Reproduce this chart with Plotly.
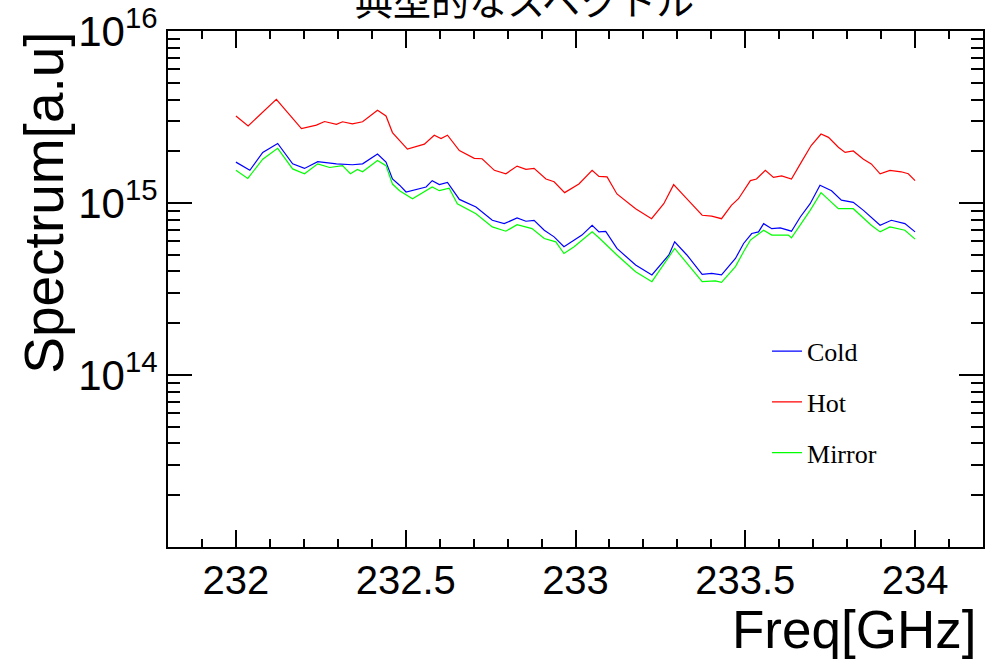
import plotly.graph_objects as go

# ---- data ----
hot_freq = [232.000, 232.036, 232.119, 232.193, 232.237, 232.261, 232.296, 232.314, 232.343, 232.373,
            232.417, 232.442, 232.461, 232.482, 232.505, 232.555, 232.584, 232.604, 232.623, 232.658,
            232.702, 232.725, 232.761, 232.795, 232.828, 232.854, 232.878, 232.913, 232.937, 232.968,
            232.996, 233.010, 233.049, 233.069, 233.093, 233.122, 233.177, 233.224, 233.260, 233.289,
            233.324, 233.373, 233.401, 233.430, 233.459, 233.480, 233.515, 233.533, 233.559, 233.583,
            233.607, 233.636, 233.665, 233.694, 233.723, 233.745, 233.774, 233.794, 233.818, 233.848,
            233.871, 233.897, 233.926, 233.959, 233.980, 234.000]
hot_vals = [3.21, 2.81, 4.01, 2.71, 2.84, 2.98, 2.87, 2.97, 2.89, 2.97,
            3.46, 3.21, 2.57, 2.30, 2.06, 2.20, 2.48, 2.37, 2.48, 2.02,
            1.82, 1.81, 1.55, 1.48, 1.64, 1.57, 1.59, 1.38, 1.33, 1.15,
            1.24, 1.29, 1.55, 1.43, 1.42, 1.13, 0.927, 0.811, 0.991, 1.28,
            1.08, 0.849, 0.839, 0.811, 0.970, 1.06, 1.35, 1.38, 1.55, 1.41,
            1.44, 1.38, 1.73, 2.16, 2.52, 2.41, 2.11, 1.97, 2.01, 1.80,
            1.69, 1.48, 1.55, 1.52, 1.48, 1.35]  # x 1e15

cold_freq = [232.000, 232.041, 232.079, 232.123, 232.167, 232.202, 232.241, 232.296, 232.343, 232.373,
             232.417, 232.442, 232.461, 232.482, 232.501, 232.540, 232.560, 232.578, 232.599, 232.623,
             232.658, 232.707, 232.755, 232.790, 232.828, 232.854, 232.878, 232.908, 232.937, 232.966,
             232.996, 233.019, 233.049, 233.069, 233.089, 233.122, 233.177, 233.225, 233.275, 233.292,
             233.328, 233.373, 233.401, 233.430, 233.471, 233.495, 233.519, 233.539, 233.554, 233.578,
             233.603, 233.636, 233.662, 233.691, 233.720, 233.754, 233.783, 233.818, 233.848, 233.871,
             233.897, 233.930, 233.970, 234.000]
cold_vals = [1.73, 1.55, 1.97, 2.22, 1.69, 1.59, 1.74, 1.69, 1.67, 1.69,
             1.93, 1.73, 1.38, 1.27, 1.16, 1.21, 1.24, 1.35, 1.28, 1.32,
             1.05, 0.948, 0.794, 0.759, 0.819, 0.784, 0.794, 0.695, 0.636, 0.557,
             0.609, 0.651, 0.743, 0.680, 0.685, 0.545, 0.436, 0.382, 0.499, 0.595,
             0.499, 0.385, 0.390, 0.382, 0.476, 0.582, 0.665, 0.680, 0.759, 0.710,
             0.717, 0.686, 0.830, 0.991, 1.27, 1.18, 1.04, 1.01, 0.907, 0.830,
             0.743, 0.794, 0.759, 0.680]  # x 1e15

mirror_freq = [232.000, 232.035, 232.079, 232.123, 232.167, 232.202, 232.241, 232.276, 232.314, 232.337,
               232.358, 232.373, 232.417, 232.442, 232.461, 232.482, 232.520, 232.555, 232.578, 232.599,
               232.628, 232.652, 232.707, 232.755, 232.795, 232.828, 232.872, 232.908, 232.942, 232.966,
               232.996, 233.049, 233.069, 233.122, 233.177, 233.225, 233.292, 233.373, 233.412, 233.430,
               233.471, 233.495, 233.515, 233.554, 233.578, 233.627, 233.636, 233.691, 233.723, 233.774,
               233.818, 233.871, 233.897, 233.926, 233.970, 234.000]
mirror_vals = [1.55, 1.39, 1.80, 2.08, 1.58, 1.48, 1.69, 1.61, 1.65, 1.48,
               1.57, 1.52, 1.77, 1.65, 1.29, 1.18, 1.06, 1.16, 1.24, 1.18,
               1.22, 0.991, 0.867, 0.727, 0.686, 0.749, 0.710, 0.622, 0.595, 0.509,
               0.557, 0.680, 0.628, 0.499, 0.399, 0.349, 0.545, 0.349, 0.353, 0.346,
               0.427, 0.521, 0.609, 0.695, 0.651, 0.651, 0.628, 0.907, 1.15, 0.927,
               0.927, 0.743, 0.680, 0.727, 0.695, 0.617]  # x 1e15

SCALE = 1e15
x_major = [232, 232.5, 233, 233.5, 234]
x_major_text = ["232", "232.5", "233", "233.5", "234"]
y_major = [1e14, 1e15, 1e16]
y_major_text = ["10<sup>14</sup>", "10<sup>15</sup>", "10<sup>16</sup>"]

title_text = "典型的なスペクトル"
x_title = "Freq[GHz]"
y_title = "Spectrum[a.u]"

series = [
    ("Cold", cold_freq, cold_vals, "#0000ff"),
    ("Hot", hot_freq, hot_vals, "#ff0000"),
    ("Mirror", mirror_freq, mirror_vals, "#00ff00"),
]

fig = go.Figure()
for name, fx, fv, col in series:
    fig.add_trace(go.Scatter(
        x=fx, y=[v * SCALE for v in fv], mode="lines", name=name,
        legendgroup=name,
        line=dict(color=col, width=1.2),
    ))

sans = "Liberation Sans"
y_minor = [m * 10 ** e for e in (13, 14, 15) for m in range(2, 10)]

fig.update_layout(
    width=986, height=659,
    margin=dict(l=168, r=1, t=28, b=112),
    paper_bgcolor="white", plot_bgcolor="white",
    showlegend=True,
    legend=dict(
        x=0.735, y=0.425, xanchor="left", yanchor="top",
        font=dict(family="Liberation Serif", size=26, color="black"),
        bgcolor="rgba(0,0,0,0)", itemwidth=30, tracegroupgap=14,
    ),
    xaxis=dict(
        range=[231.8, 234.2], showgrid=False, zeroline=False,
        showline=True, linecolor="black", linewidth=2, mirror="ticks",
        ticks="inside", ticklen=17, tickwidth=1.5, tickcolor="black",
        tickmode="array", tickvals=x_major, ticktext=x_major_text,
        tickfont=dict(family=sans, size=40, color="black"),
        ticklabelstandoff=-3,
        minor=dict(ticks="inside", ticklen=8, tickwidth=1.5, tickcolor="black", dtick=0.1, tick0=232),
    ),
    yaxis=dict(
        type="log", range=[13, 16.0005], showgrid=False, zeroline=False,
        showline=True, linecolor="black", linewidth=2, mirror="ticks",
        ticks="inside", ticklen=24, tickwidth=1.5, tickcolor="black",
        tickmode="array", tickvals=y_major, ticktext=y_major_text,
        tickfont=dict(family=sans, size=42, color="black"),
        ticklabeloverflow="allow",
        minor=dict(ticks="inside", ticklen=12, tickwidth=1.5, tickcolor="black",
                   tickmode="array", tickvals=y_minor),
    ),
    annotations=[
        dict(text=title_text, xref="paper", yref="paper", x=0.437, y=1 + 33 / 519,
             xanchor="center", yanchor="middle", showarrow=False,
             font=dict(family="Noto Sans CJK JP", size=38, color="black")),
        dict(text=x_title, xref="paper", yref="paper", x=1, y=-83 / 519,
             xanchor="right", yanchor="middle", xshift=-5, showarrow=False,
             font=dict(family=sans, size=53, color="black")),
        dict(text=y_title, xref="paper", yref="paper", x=-124 / 817, y=1.003,
             xanchor="center", yanchor="top", textangle=-90, showarrow=False,
             font=dict(family=sans, size=55, color="black")),
    ],
)

fig.write_html("out.html")
